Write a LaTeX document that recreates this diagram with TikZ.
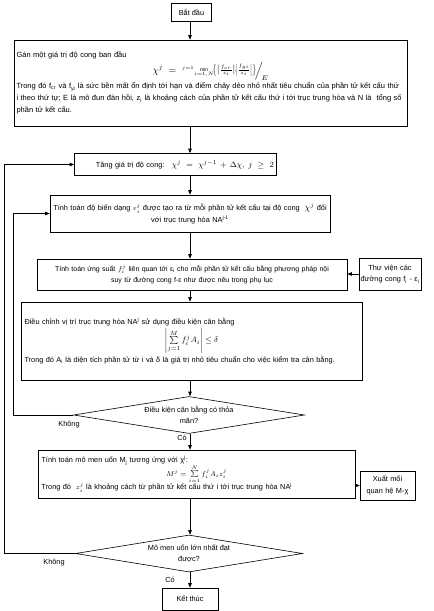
\documentclass[tikz,border=0pt]{standalone}
\usepackage{amsmath}
\usepackage{fontspec}
\setmainfont{Liberation Sans}
\usetikzlibrary{arrows.meta,shapes.geometric,calc}
\newcommand{\txtsz}{\fontsize{7.35}{11.5}\selectfont}
\newcommand{\bigtxt}{\fontsize{7.5}{12}\selectfont}
\newcommand{\smtxt}{\fontsize{7}{11.5}\selectfont}
\begin{document}
\begin{tikzpicture}[x=1pt,y=-1pt,
  every node/.style={font=\txtsz, inner sep=0pt},
  boxstyle/.style={draw, line width=0.6pt, rectangle},
  decision/.style={draw, line width=0.6pt, diamond},
  arr/.style={line width=0.6pt, -{Triangle[length=4.5pt,width=3.5pt]}},
  lbl/.style={font=\txtsz}]
\useasboundingbox[fill=white] (0,0) rectangle (434,611);
\coordinate (ax) at (190,0);
\coordinate (loopin) at (13,0);
\coordinate (loopout) at (4,0);

\node[boxstyle, minimum width=40pt, minimum height=18pt] (start) at (191.5,12.5) {Bắt đầu};

\node[boxstyle, font=\bigtxt, minimum width=393pt, minimum height=86pt, text width=388pt, align=left] (init) at (210.5,83)
 {Gán một giá trị độ cong ban đầu\par\vspace{2pt}
  \centerline{{\fontsize{10}{12}\selectfont$\chi^{j}\;=\;\raisebox{2pt}{$\scriptscriptstyle {}^{j=1}\!\min\limits_{i=1,N}\!\left\{\left|\frac{f_{cr}}{z_i}\right|\!,\!\left|\frac{f_{yi}}{z_i}\right|\right\}$}\!\Big/_{\!E}$}}\par\vspace{1.5pt}
  \mbox{Trong đó f\textsubscript{cr} và f\textsubscript{yi} là sức bền mất ổn định tới hạn và điểm chảy dẻo nhỏ nhất tiêu chuẩn của phần tử kết cấu thứ}\\
  \mbox{i theo thứ tự; E là mô đun đàn hồi, z\textsubscript{i} là khoảng cách của phần tử kết cấu thứ i tới trục trung hòa và N là \ tổng số}\\
  phần tử kết cấu.};

\node[boxstyle, minimum width=202pt, minimum height=22pt, text width=197pt, align=right] (inc) at (175.5,164.5)
 {Tăng giá trị độ cong:\quad{\fontsize{8.5}{10}\selectfont$\chi^{j}=\chi^{j-1}+\Delta\chi,\ j\ge 2$}};

\node[boxstyle, minimum width=280pt, minimum height=37pt, text width=278pt, align=center] (strain) at (190,213.5)
 {Tính toán độ biến dạng $\varepsilon_i^j$ được tạo ra từ mỗi phần tử kết cấu tại độ cong \ {\fontsize{9}{10}\selectfont$\chi^{j}$} đối\\
  với trục trung hòa NA\textsuperscript{j-1}};

\node[boxstyle, font=\smtxt, minimum width=310pt, minimum height=31pt, text width=306pt, align=center] (stress) at (192,274.5)
 {Tính toán ứng suất $f_i^j$ liên quan tới ε\textsubscript{i} cho mỗi phần tử kết cấu bằng phương pháp nội\\
  suy từ đường cong f-ε như được nêu trong phụ lục};

\node[boxstyle, minimum width=62pt, minimum height=32pt, text width=60pt, align=center] (lib) at (390,274)
 {Thư viện các\\đường cong f\textsubscript{i} - ε\textsubscript{i}};

\node[boxstyle, minimum width=341pt, minimum height=78pt, text width=334pt, align=left] (equil) at (191.5,341)
 {Điều chỉnh vị trí trục trung hòa NA\textsuperscript{j} sử dụng điều kiện cân bằng\par\vspace{1.5pt}
  \centerline{{\fontsize{8}{10}\selectfont$\left|\sum\limits_{j=1}^{M} f_i^{j} A_i\right|\le\delta$}}\par\vspace{2pt}
  Trong đó A\textsubscript{i} là diện tích phần tử từ i và δ là giá trị nhỏ tiêu chuẩn cho việc kiểm tra cân bằng.};

\node[decision, minimum width=231pt, minimum height=37pt] (d1) at (189,415) {};
\node[align=center] (d1t) at (d1.center) {Điều kiện cân bằng có thỏa\\mãn?};

\node[boxstyle, minimum width=317pt, minimum height=48pt, text width=310pt, align=left] (moment) at (196.5,474)
 {Tính toán mô men uốn M\textsubscript{j} tương ứng với χ\textsuperscript{j}:\par\vspace{-1pt}
  \centerline{{\fontsize{7}{8}\selectfont$M^{j}=\sum\limits_{i=1}^{N} f_i^{j} A_i z_i^{j}$}}\par\vspace{-1.5pt}
  Trong đó \ $z_i^j$ là khoảng cách từ phần tử kết cấu thứ i tới trục trung hòa NA\textsuperscript{j}};

\node[boxstyle, minimum width=55pt, minimum height=29pt, text width=53pt, align=center] (out) at (387.5,485.5)
 {Xuất mối\\quan hệ M-χ};

\node[decision, minimum width=227pt, minimum height=37pt] (d2) at (189,553.5) {};
\node[align=center] (d2t) at (d2.center) {Mô men uốn lớn nhất đạt\\được?};

\node[boxstyle, minimum width=56pt, minimum height=22pt] (end) at (190,599) {Kết thúc};

\node[lbl] (no1) at (69,425) {Không};
\node[lbl] (yes1) at (182,437.5) {Có};
\node[lbl] (no2) at (54,563) {Không};
\node[lbl] (yes2) at (170,580) {Có};

\draw[arr] (ax |- start.south) -- (ax |- init.north);
\draw[arr] (ax |- init.south) -- (ax |- inc.north);
\draw[arr] (ax |- inc.south) -- (ax |- strain.north);
\draw[arr] (ax |- strain.south) -- (ax |- stress.north);
\draw[arr] (ax |- stress.south) -- (ax |- equil.north);
\draw[arr] (ax |- equil.south) -- (ax |- d1.north);
\draw[arr] (ax |- d1.south) -- (ax |- moment.north);
\draw[arr] (ax |- moment.south) -- (ax |- d2.north);
\draw[arr] (ax |- d2.south) -- (ax |- end.north);
\draw[arr] (lib.west) -- (lib.west -| stress.east);
\draw[arr] (moment.east |- out.west) -- (out.west);
\draw[arr] (d1.west) -- (d1.west -| loopin) |- (strain.west);
\draw[arr] (d2.west) -- (d2.west -| loopout) |- (inc.west);
\end{tikzpicture}
\end{document}
